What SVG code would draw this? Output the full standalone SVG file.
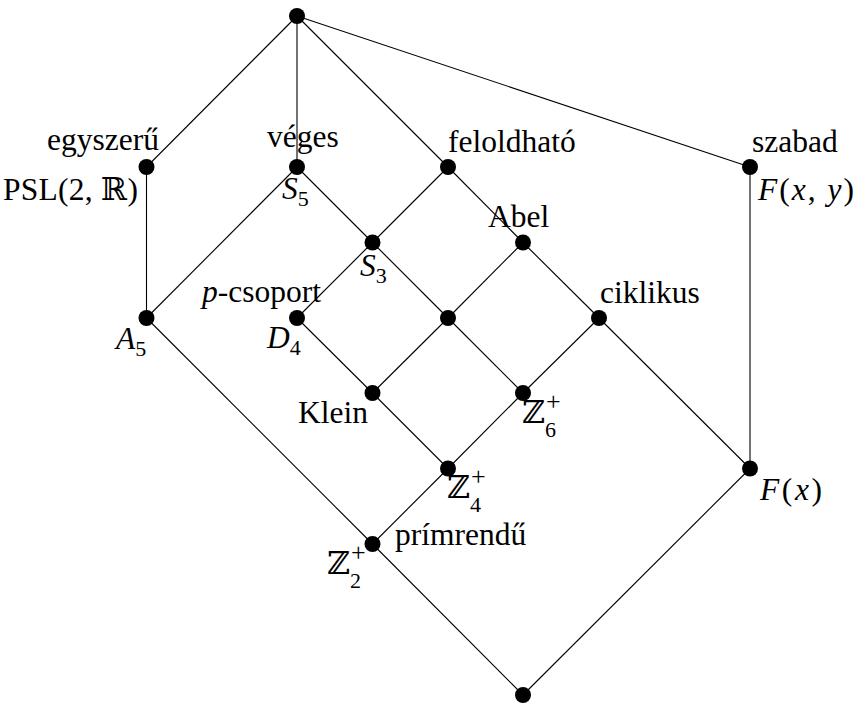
<svg xmlns="http://www.w3.org/2000/svg" width="856" height="704" viewBox="0 0 856 704">
  <style>
    .edge { stroke: #000; stroke-width: 1.1; fill: none; }
    .dot { fill: #000; }
    text { font-family: "Liberation Serif", "Times New Roman", "DejaVu Serif", serif; font-size: 31.5px; fill: #000; }
    .m { font-style: italic; }
    .s { font-size: 22px; }
    .sup { font-size: 26px; }
  </style>
  <rect width="856" height="704" fill="#fff"/>

  <!-- connectors of the lattice -->
  <g id="connectors" class="edge">
    <line x1="297" y1="16" x2="146.5" y2="167"/>
    <line x1="297" y1="16" x2="297" y2="167"/>
    <line x1="297" y1="16" x2="448" y2="167"/>
    <line x1="297" y1="16" x2="750" y2="167"/>
    <line x1="146.5" y1="167" x2="146.5" y2="318"/>
    <line x1="297" y1="167" x2="146.5" y2="318"/>
    <line x1="297" y1="167" x2="372.5" y2="242.5"/>
    <line x1="448" y1="167" x2="372.5" y2="242.5"/>
    <line x1="448" y1="167" x2="523" y2="242.5"/>
    <line x1="750" y1="167" x2="750" y2="468.5"/>
    <line x1="372.5" y1="242.5" x2="297" y2="318"/>
    <line x1="372.5" y1="242.5" x2="448" y2="318"/>
    <line x1="523" y1="242.5" x2="448" y2="318"/>
    <line x1="523" y1="242.5" x2="599" y2="318"/>
    <line x1="146.5" y1="318" x2="372.5" y2="544"/>
    <line x1="297" y1="318" x2="372.5" y2="393"/>
    <line x1="448" y1="318" x2="372.5" y2="393"/>
    <line x1="448" y1="318" x2="523" y2="393"/>
    <line x1="599" y1="318" x2="523" y2="393"/>
    <line x1="599" y1="318" x2="750" y2="468.5"/>
    <line x1="372.5" y1="393" x2="448" y2="468.5"/>
    <line x1="523" y1="393" x2="448" y2="468.5"/>
    <line x1="448" y1="468.5" x2="372.5" y2="544"/>
    <line x1="372.5" y1="544" x2="523" y2="695"/>
    <line x1="750" y1="468.5" x2="523" y2="695"/>
  </g>

  <!-- nodes -->
  <g id="n-top"><circle class="dot" cx="297" cy="16" r="8"/></g>

  <g id="n-egyszeru">
    <circle class="dot" cx="146.5" cy="167" r="8"/>
    <text x="47" y="150">egyszerű</text>
    <text x="3" y="200" textLength="135" lengthAdjust="spacing">PSL(2, ℝ)</text>
  </g>

  <g id="n-veges">
    <circle class="dot" cx="297" cy="167" r="8"/>
    <text x="267" y="147">véges</text>
    <text x="282" y="199"><tspan class="m">S</tspan><tspan class="s" dy="7">5</tspan></text>
  </g>

  <g id="n-feloldhato">
    <circle class="dot" cx="448" cy="167" r="8"/>
    <text x="448" y="152">feloldható</text>
  </g>

  <g id="n-szabad">
    <circle class="dot" cx="750" cy="167" r="8"/>
    <text x="752" y="152">szabad</text>
    <text x="758" y="200" textLength="96" lengthAdjust="spacing"><tspan class="m">F</tspan>(<tspan class="m">x</tspan>, <tspan class="m">y</tspan>)</text>
  </g>

  <g id="n-s3">
    <circle class="dot" cx="372.5" cy="242.5" r="8"/>
    <text x="360" y="276"><tspan class="m">S</tspan><tspan class="s" dy="7">3</tspan></text>
  </g>

  <g id="n-abel">
    <circle class="dot" cx="523" cy="242.5" r="8"/>
    <text x="488" y="227">Abel</text>
  </g>

  <g id="n-a5">
    <circle class="dot" cx="146.5" cy="318" r="8"/>
    <text x="116" y="349"><tspan class="m">A</tspan><tspan class="s" dy="7">5</tspan></text>
  </g>

  <g id="n-d4">
    <circle class="dot" cx="297" cy="318" r="8"/>
    <text x="202" y="302"><tspan class="m">p</tspan>-csoport</text>
    <text x="267" y="348"><tspan class="m">D</tspan><tspan class="s" dy="7">4</tspan></text>
  </g>

  <g id="n-center">
    <circle class="dot" cx="448" cy="318" r="8"/>
  </g>

  <g id="n-ciklikus">
    <circle class="dot" cx="599" cy="318" r="8"/>
    <text x="600" y="303">ciklikus</text>
  </g>

  <g id="n-klein">
    <circle class="dot" cx="372.5" cy="393" r="8"/>
    <text x="298" y="423">Klein</text>
  </g>

  <g id="n-z6">
    <circle class="dot" cx="523" cy="393" r="8"/>
    <text x="522" y="423">ℤ<tspan class="sup" x="546" dy="-13">+</tspan><tspan class="s" x="545" dy="27">6</tspan></text>
  </g>

  <g id="n-z4">
    <circle class="dot" cx="448" cy="468.5" r="8"/>
    <text x="447" y="498">ℤ<tspan class="sup" x="471" dy="-13">+</tspan><tspan class="s" x="470" dy="27">4</tspan></text>
  </g>

  <g id="n-fx">
    <circle class="dot" cx="750" cy="468.5" r="8"/>
    <text x="760" y="500" textLength="62" lengthAdjust="spacing"><tspan class="m">F</tspan>(<tspan class="m">x</tspan>)</text>
  </g>

  <g id="n-z2">
    <circle class="dot" cx="372.5" cy="544" r="8"/>
    <text x="327" y="574">ℤ<tspan class="sup" x="351" dy="-13">+</tspan><tspan class="s" x="350" dy="27">2</tspan></text>
    <text x="395" y="545">prímrendű</text>
  </g>

  <g id="n-bottom"><circle class="dot" cx="523" cy="695" r="8"/></g>
</svg>
